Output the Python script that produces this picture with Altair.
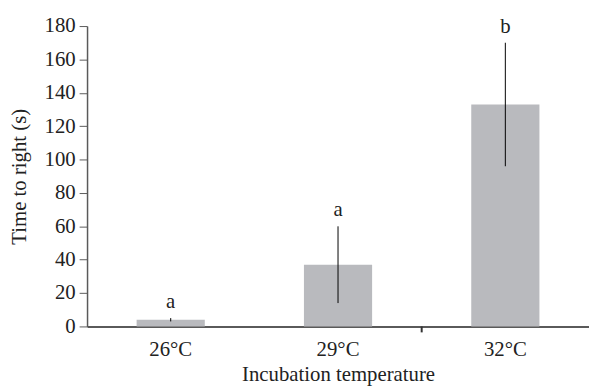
import altair as alt
import pandas as pd

categories = ["26°C", "29°C", "32°C"]
means = [4, 37, 133]
errors = [1, 23, 37]
letters = ["a", "a", "b"]
y_ticks = [0, 20, 40, 60, 80, 100, 120, 140, 160, 180]

df = pd.DataFrame({
    "cat": categories,
    "mean": means,
    "err": errors,
    "letter": letters,
})
df["lo"] = df["mean"] - df["err"]
df["hi"] = df["mean"] + df["err"]

FONT = "Liberation Serif"

xscale = alt.Scale(domain=categories, paddingInner=0, paddingOuter=0)
yscale = alt.Scale(domain=[0, 180], nice=False, zero=True)

xaxis = alt.Axis(title="Incubation temperature", labelAngle=0,
                 ticks=False, labelPadding=12, titlePadding=5,
                 labelFontSize=21, titleFontSize=21,
                 domainColor="#5a5a5a", domainWidth=2)
yaxis = alt.Axis(title="Time to right (s)", values=y_ticks,
                 grid=False, tickSize=8, tickColor="#5a5a5a",
                 domainColor="#5a5a5a", domainWidth=1.5,
                 labelFontSize=21, titleFontSize=21,
                 labelOverlap=False, labelFlush=False,
                 labelPadding=4, titlePadding=15)

base = alt.Chart(df)

bars = base.mark_bar(color="#B9BABE", size=69).encode(
    x=alt.X("cat:N", scale=xscale, sort=categories, axis=xaxis),
    y=alt.Y("mean:Q", scale=yscale, axis=yaxis),
)

errbars = base.mark_rule(color="black", strokeWidth=1).encode(
    x=alt.X("cat:N", scale=xscale, sort=categories, axis=xaxis),
    y=alt.Y("lo:Q", scale=yscale, axis=yaxis),
    y2="hi:Q",
)

labels = base.mark_text(font=FONT, fontSize=21, baseline="bottom", dy=-6,
                        color="#222").encode(
    x=alt.X("cat:N", scale=xscale, sort=categories, axis=xaxis),
    y=alt.Y("hi:Q", scale=yscale, axis=yaxis),
    text="letter:N",
)

tickdf = pd.DataFrame({"cat": ["32°C"]})
sep_tick = alt.Chart(tickdf).mark_rule(color="#333", strokeWidth=2).encode(
    x=alt.X("cat:N", scale=xscale, sort=categories, bandPosition=0, axis=xaxis),
    y=alt.value(304),
    y2=alt.value(310),
)

chart = alt.layer(bars, errbars, labels, sep_tick).properties(
    width=508,
    height=304,
    autosize=alt.AutoSizeParams(type="none"),
    padding={"left": 80, "top": 16, "right": 0, "bottom": 58},
).configure_view(stroke=None).configure_axis(
    labelFont=FONT, titleFont=FONT,
    labelColor="#222", titleColor="#222", titleFontWeight="normal",
    labelOverlap=False,
)

chart.save("out.html", embed_options={"renderer": "svg", "actions": False})
